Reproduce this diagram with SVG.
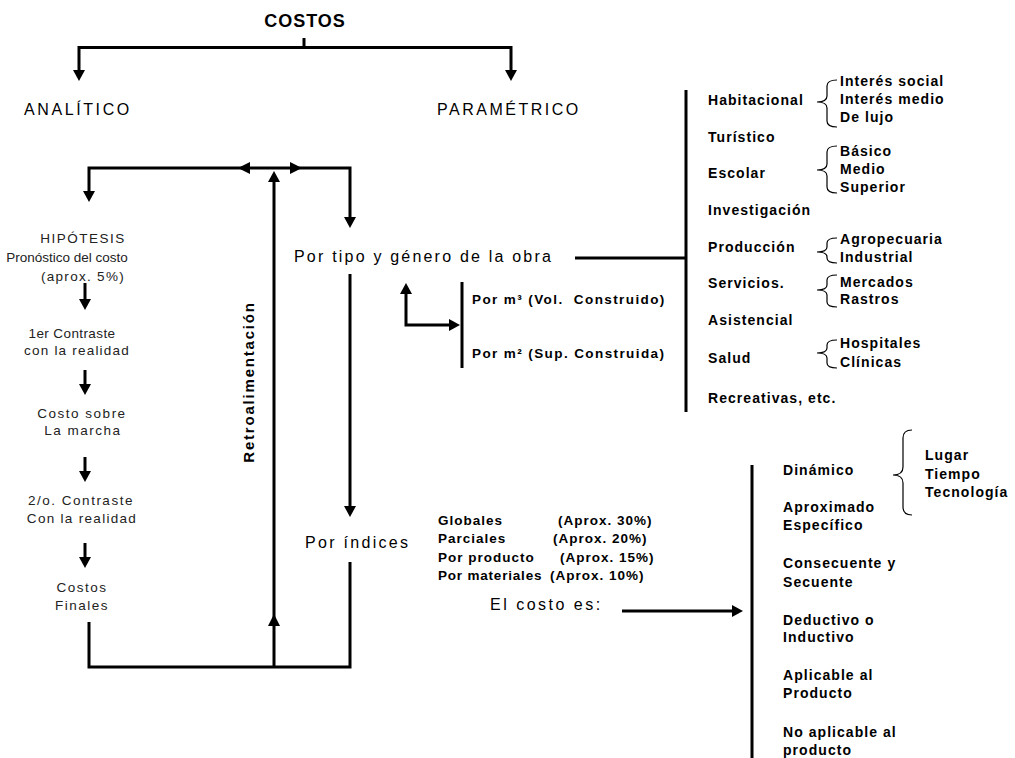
<svg xmlns="http://www.w3.org/2000/svg" width="1015" height="758" viewBox="0 0 1015 758">
<defs>
<marker id="ah" viewBox="0 0 11 12" refX="5" refY="6" markerWidth="11" markerHeight="12" markerUnits="userSpaceOnUse" orient="auto-start-reverse">
<path d="M0,0 L11,6 L0,12 z" fill="#000"/>
</marker>
<style>
text{font-family:"Liberation Sans",Arial,sans-serif;fill:#000}
.ttl{font-size:18px;font-weight:bold;letter-spacing:1px}
.hd{font-size:16px;letter-spacing:2.5px}
.an{font-size:13.5px;fill:#222;letter-spacing:1.5px}
.md{font-size:16px;letter-spacing:2.3px}
.b{font-size:14px;font-weight:bold;letter-spacing:1.05px}
.ix{font-size:13.5px;font-weight:bold;letter-spacing:1px}
.rot{font-size:15px;font-weight:bold;letter-spacing:1.8px}
.ln{fill:none;stroke:#000;stroke-width:3}
.ar{fill:none;stroke:#000;stroke-width:3;marker-end:url(#ah)}
.ar2{fill:none;stroke:#000;stroke-width:3;marker-start:url(#ah);marker-end:url(#ah)}
.br{fill:none;stroke:#000;stroke-width:1.2}
</style>
</defs>
<rect width="1015" height="758" fill="#fff"/>

<g id="connectors">
<path class="ln" d="M304,38 V48"/>
<path class="ar2" d="M79,75 V47.5 H511 V75"/>
<path class="ar2" d="M89,196 V168 H350 V222"/>
<polygon points="238,168 250,162 250,174" fill="#000"/>
<polygon points="302,168 290,162 290,174" fill="#000"/>
<path class="ar" d="M274,667 V177"/>
<polygon points="274,614 268,626 280,626" fill="#000"/>
<path class="ln" d="M89,622 V667 H350 V562"/>
<path class="ar" d="M350,274 V511"/>
<path class="ln" d="M575,258 H686"/>
<path class="ln" d="M686,90 V412"/>
<path class="ar2" d="M406,289 V325 H454"/>
<path class="ln" d="M462,282 V368"/>
<path class="ar" d="M622,611 H737"/>
<path class="ln" d="M752,465 V758"/>
<path class="ar" d="M85,283 V304"/>
<path class="ar" d="M85,370 V389"/>
<path class="ar" d="M85,457 V476"/>
<path class="ar" d="M85,543 V562"/>
<path class="br" d="M837,80 Q827,80 827,86 L827,96 Q827,102 817,102 Q827,102 827,108 L827,121 Q827,127 837,127"/>
<path class="br" d="M837,146 Q827,146 827,152 L827,164 Q827,170 817,170 Q827,170 827,176 L827,187 Q827,193 837,193"/>
<path class="br" d="M837,238 Q827,238 827,243 L827,247 Q827,252 817,252 Q827,252 827,257 L827,258 Q827,263 837,263"/>
<path class="br" d="M837,275 Q827,275 827,280 L827,285 Q827,290 817,290 Q827,290 827,295 L827,302 Q827,307 837,307"/>
<path class="br" d="M837,340 Q827,340 827,345 L827,348 Q827,353 817,353 Q827,353 827,358 L827,363 Q827,368 837,368"/>
<path class="br" d="M912,430 Q903,430 903,438 L903,467 Q903,475 893,475 Q903,475 903,483 L903,507 Q903,515 912,515"/>
</g>

<g id="costos"><text class="ttl" x="305" y="27" text-anchor="middle">COSTOS</text></g>
<g id="analitico"><text class="hd" x="24" y="115" style="letter-spacing:2.6px">ANALÍTICO</text></g>
<g id="parametrico"><text class="hd" x="437" y="115">PARAMÉTRICO</text></g>

<g id="hipotesis">
<text class="an" x="83" y="243" text-anchor="middle">HIPÓTESIS</text>
<text class="an" x="67" y="262" text-anchor="middle" style="letter-spacing:0">Pronóstico del costo</text>
<text class="an" x="83" y="281" text-anchor="middle" style="letter-spacing:1.3px">(aprox. 5%)</text>
</g>
<g id="contraste1">
<text class="an" x="72" y="338" text-anchor="middle" style="letter-spacing:0.4px">1er Contraste</text>
<text class="an" x="77" y="355" text-anchor="middle" style="letter-spacing:1.2px">con la realidad</text>
</g>
<g id="marcha">
<text class="an" x="82" y="418" text-anchor="middle">Costo sobre</text>
<text class="an" x="83" y="435" text-anchor="middle">La marcha</text>
</g>
<g id="contraste2">
<text class="an" x="81" y="505" text-anchor="middle">2/o. Contraste</text>
<text class="an" x="82" y="523" text-anchor="middle" style="letter-spacing:1.3px">Con la realidad</text>
</g>
<g id="finales">
<text class="an" x="82" y="592" text-anchor="middle">Costos</text>
<text class="an" x="82" y="610" text-anchor="middle">Finales</text>
</g>

<g id="retro"><text class="rot" transform="translate(254,382) rotate(-90)" text-anchor="middle">Retroalimentación</text></g>

<g id="portipo"><text class="md" x="294" y="262" style="letter-spacing:2.2px">Por tipo y género de la obra</text></g>
<g id="porm">
<text class="ix" x="472" y="304" xml:space="preserve" style="letter-spacing:1.4px">Por m³ (Vol.  Construido)</text>
<text class="ix" x="472" y="358" style="letter-spacing:1.4px">Por m² (Sup. Construida)</text>
</g>

<g id="generos">
<text class="b" x="708" y="105">Habitacional</text>
<text class="b" x="708" y="142">Turístico</text>
<text class="b" x="708" y="178">Escolar</text>
<text class="b" x="708" y="215">Investigación</text>
<text class="b" x="708" y="252">Producción</text>
<text class="b" x="708" y="288">Servicios.</text>
<text class="b" x="708" y="325">Asistencial</text>
<text class="b" x="708" y="363">Salud</text>
<text class="b" x="708" y="403">Recreativas, etc.</text>
</g>
<g id="subgeneros">
<text class="b" x="840" y="86">Interés social</text>
<text class="b" x="840" y="104">Interés medio</text>
<text class="b" x="840" y="122">De lujo</text>
<text class="b" x="840" y="156">Básico</text>
<text class="b" x="840" y="174">Medio</text>
<text class="b" x="840" y="192">Superior</text>
<text class="b" x="840" y="244">Agropecuaria</text>
<text class="b" x="840" y="262">Industrial</text>
<text class="b" x="840" y="287">Mercados</text>
<text class="b" x="840" y="304">Rastros</text>
<text class="b" x="840" y="348">Hospitales</text>
<text class="b" x="840" y="367">Clínicas</text>
</g>

<g id="porindices"><text class="md" x="305" y="548">Por índices</text></g>
<g id="indices">
<text class="ix" x="438" y="525">Globales</text>
<text class="ix" x="558" y="525">(Aprox. 30%)</text>
<text class="ix" x="438" y="543">Parciales</text>
<text class="ix" x="553" y="543">(Aprox. 20%)</text>
<text class="ix" x="438" y="562">Por producto</text>
<text class="ix" x="560" y="562">(Aprox. 15%)</text>
<text class="ix" x="438" y="580" style="letter-spacing:0.8px">Por materiales</text>
<text class="ix" x="550" y="580">(Aprox. 10%)</text>
</g>
<g id="elcosto"><text class="md" x="490" y="610" style="letter-spacing:2.5px">El costo es:</text></g>

<g id="caracteristicas">
<text class="b" x="783" y="475">Dinámico</text>
<text class="b" x="783" y="512">Aproximado</text>
<text class="b" x="783" y="530">Específico</text>
<text class="b" x="783" y="568">Consecuente y</text>
<text class="b" x="783" y="587">Secuente</text>
<text class="b" x="783" y="625">Deductivo o</text>
<text class="b" x="783" y="642">Inductivo</text>
<text class="b" x="783" y="680">Aplicable al</text>
<text class="b" x="783" y="698">Producto</text>
<text class="b" x="783" y="737">No aplicable al</text>
<text class="b" x="783" y="755">producto</text>
</g>
<g id="dinamico">
<text class="b" x="925" y="460">Lugar</text>
<text class="b" x="925" y="479">Tiempo</text>
<text class="b" x="925" y="497">Tecnología</text>
</g>
</svg>
